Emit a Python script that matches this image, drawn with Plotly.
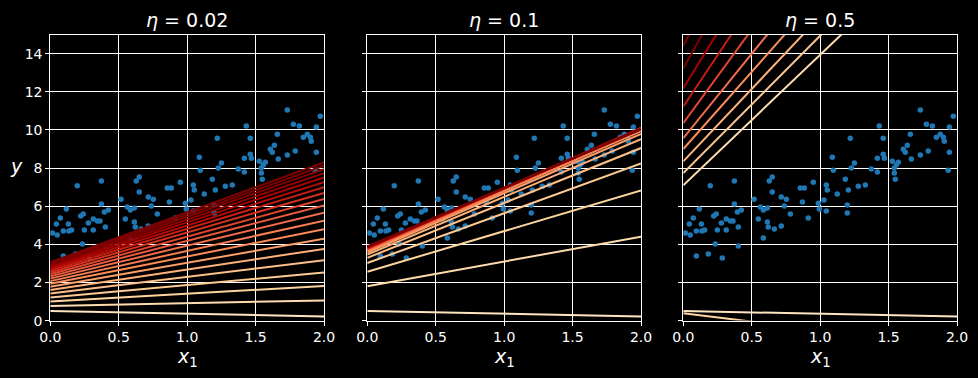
import plotly.graph_objects as go

# ---- data ----
x_vals = [0.197,0.373,0.373,0.117,0.424,0.395,0.073,0.222,0.241,0.314,0.344,0.363,0.278,0.044,0.132,0.402,0.249,0.314,0.095,0.136,0.156,0.015,0.051,0.234,0.402,0.095,0.183,0.285,
          0.517,0.650,0.628,0.650,0.716,0.753,0.855,0.884,0.950,0.870,0.987,1.028,0.994,0.563,0.585,0.614,0.738,0.782,0.548,0.614,0.621,0.665,0.716,0.913,0.585,
          1.432,1.220,1.461,1.089,1.461,1.418,1.469,1.250,1.096,1.228,1.374,1.418,1.184,1.045,1.052,1.206,1.279,1.330,1.125,1.198,1.045,1.198,
          1.732,1.973,1.776,1.820,1.944,1.659,1.849,1.878,1.900,1.907,1.637,1.608,1.622,1.944,1.732,1.790,1.666,1.527,1.571,1.556,1.542,1.542,1.549,1.936]
y_vals = [7.07,7.32,6.11,5.85,5.80,5.69,5.38,5.48,5.59,5.33,5.22,5.22,5.12,5.06,5.06,4.91,4.75,4.75,4.70,4.70,4.75,4.59,4.49,4.02,3.91,3.39,3.49,3.28,
          6.37,7.53,7.32,6.74,6.48,6.37,6.95,6.95,7.26,6.22,6.16,6.32,5.85,5.96,5.80,5.90,6.01,5.59,5.33,5.17,4.91,4.80,4.96,5.38,4.33,
          10.20,9.57,9.57,8.57,8.73,8.52,8.52,8.26,7.89,8.00,7.95,7.79,7.42,7.11,6.85,6.85,7.05,7.11,6.64,6.06,5.75,5.64,
          11.04,10.72,10.30,10.20,10.15,9.78,9.62,9.78,9.62,9.41,9.20,8.99,8.83,8.83,8.68,8.89,8.47,8.36,8.31,8.16,8.00,7.74,7.42,7.89]

etas = [0.02, 0.1, 0.5]
titles = ["<i>η</i> = 0.02", "<i>η</i> = 0.1", "<i>η</i> = 0.5"]
x_new = [0, 2]

# predicted y at x=0 and x=2 for each of the first 20 gradient-descent steps
eta002_y0 = [0.50,0.76,1.00,1.21,1.42,1.60,1.77,1.93,2.07,2.20,2.32,2.43,2.54,2.63,2.72,2.80,2.87,2.94,3.00,3.06]
eta002_y2 = [0.22,1.06,1.82,2.52,3.17,3.76,4.29,4.79,5.24,5.66,6.04,6.38,6.70,7.00,7.26,7.51,7.73,7.94,8.12,8.30]
eta01_y0 = [0.50,1.80,2.56,3.02,3.29,3.46,3.57,3.64,3.68,3.72,3.74,3.77,3.78,3.80,3.82,3.83,3.85,3.86,3.87,3.89]
eta01_y2 = [0.22,4.40,6.83,8.24,9.05,9.52,9.79,9.94,10.02,10.07,10.09,10.09,10.09,10.09,10.08,10.07,10.06,10.05,10.04,10.03]
eta05_y0 = [0.50,7.10,0.38,7.74,-0.34,8.35,-1.00,9.00,-1.83,9.57,-2.84,10.36,-4.06,11.23,-5.50,12.19,-7.22,13.24,-9.26,14.40]
eta05_y2 = [0.22,20.78,-1.35,22.14,-3.97,23.55,-6.54,25.20,-9.54,27.27,-13.05,29.98,-17.18,32.71,-22.02,35.51,-27.73,38.78,-34.45,42.60]
lines_y0 = [eta002_y0, eta01_y0, eta05_y0]
lines_y2 = [eta002_y2, eta01_y2, eta05_y2]

x_ticks = [0, 0.5, 1, 1.5, 2]
x_ticktext = ["0.0", "0.5", "1.0", "1.5", "2.0"]
y_ticks = [0, 2, 4, 6, 8, 10, 12, 14]

# ---- styling ----
OrRd = ['#fff7ec','#fee8c8','#fdd49e','#fdbb84','#fc8d59','#ef6548','#d7301f','#b30000','#7f0000']
def cmap(v):
    v = min(max(v, 0.0), 1.0) * 8
    i = min(int(v), 7); f = v - i
    a = OrRd[i]; b = OrRd[i + 1]
    ca = [int(a[j:j+2], 16) for j in (1, 3, 5)]
    cb = [int(b[j:j+2], 16) for j in (1, 3, 5)]
    c = [round(ca[t] + (cb[t] - ca[t]) * f) for t in range(3)]
    return f"rgb({c[0]},{c[1]},{c[2]})"

W, H = 978, 378
doms = [(50.3, 324.0), (367.3, 641.0), (683.3, 957.0)]
ytop, ybot = 34.6, 320.6
font = "DejaVu Sans"
fig = go.Figure()
for p in range(3):
    xa = "x" if p == 0 else f"x{p+1}"
    ya = "y" if p == 0 else f"y{p+1}"
    fig.add_trace(go.Scatter(x=x_vals, y=y_vals, mode="markers", xaxis=xa, yaxis=ya,
                             marker=dict(color="#1f77b4", size=5.5, line=dict(width=0)), showlegend=False))
    for k in range(len(lines_y0[p])):
        fig.add_trace(go.Scatter(x=x_new, y=[lines_y0[p][k], lines_y2[p][k]], mode="lines", xaxis=xa, yaxis=ya,
                                 line=dict(color=cmap(k / 20 + 0.15), width=2), showlegend=False))
    d = doms[p]
    axcommon = dict(showgrid=True, gridcolor="white", gridwidth=1, showline=True, linecolor="white",
                    linewidth=1, mirror=True, ticks="outside", ticklen=4, tickcolor="white", tickwidth=1,
                    zeroline=False, automargin=False, tickfont=dict(family=font, size=14, color="white"))
    sfx = "" if p == 0 else str(p + 1)
    fig.layout["xaxis" + sfx] = dict(domain=[d[0]/W, d[1]/W], range=[0, 2], anchor=ya,
                                     tickvals=x_ticks, ticktext=x_ticktext, **axcommon)
    fig.layout["yaxis" + sfx] = dict(domain=[1-ybot/H, 1-ytop/H], range=[0, 15], anchor=xa,
                                     tickvals=y_ticks, showticklabels=(p == 0), **axcommon)
    fig.add_annotation(x=(d[0]+d[1])/2/W, y=1-20/H, xref="paper", yref="paper", showarrow=False,
                       xanchor="center", yanchor="middle",
                       text=titles[p], font=dict(family=font, size=19, color="white"))
    fig.add_annotation(x=(d[0]+d[1])/2/W, y=1-357/H, xref="paper", yref="paper", showarrow=False,
                       xanchor="center", yanchor="middle",
                       text="<i>x</i><sub>1</sub>", font=dict(family=font, size=19, color="white"))
fig.add_annotation(x=16/W, y=1-166/H, xref="paper", yref="paper", showarrow=False,
                   xanchor="center", yanchor="middle",
                   text="<i>y</i>", font=dict(family=font, size=19, color="white"))
fig.update_layout(width=W, height=H, margin=dict(l=0, r=0, t=0, b=0, pad=0, autoexpand=False),
                  paper_bgcolor="black", plot_bgcolor="black", showlegend=False)
fig.write_html("out.html", config={"displayModeBar": False},
               post_script="document.body.style.margin='0';document.body.style.background='black';")
